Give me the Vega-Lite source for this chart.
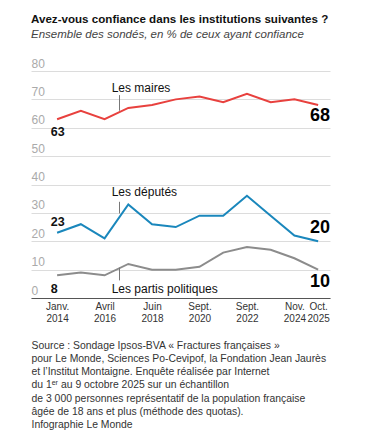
{
  "$schema": "https://vega.github.io/schema/vega-lite/v6.json",
  "width": 299,
  "height": 227,
  "autosize": "none",
  "padding": {"left": 31, "top": 71, "right": 40, "bottom": 149},
  "background": "white",
  "config": {"view": {"stroke": null}, "font": "Liberation Sans"},
  "title": {
    "text": "Avez-vous confiance dans les institutions suivantes ?",
    "subtitle": "Ensemble des sondés, en % de ceux ayant confiance",
    "anchor": "start",
    "frame": "group",
    "font": "Liberation Sans",
    "fontSize": 11.6,
    "fontWeight": "bold",
    "color": "#111",
    "subtitleFont": "Liberation Sans",
    "subtitleFontSize": 11.5,
    "subtitleFontStyle": "italic",
    "subtitleColor": "#444",
    "subtitlePadding": 3,
    "offset": 17
  },
  "datasets": {
    "series": [
      {"i": 0, "serie": "maires", "v": 63},
      {"i": 1, "serie": "maires", "v": 66},
      {"i": 2, "serie": "maires", "v": 63},
      {"i": 3, "serie": "maires", "v": 67},
      {"i": 4, "serie": "maires", "v": 68},
      {"i": 5, "serie": "maires", "v": 70},
      {"i": 6, "serie": "maires", "v": 71},
      {"i": 7, "serie": "maires", "v": 69},
      {"i": 8, "serie": "maires", "v": 72},
      {"i": 9, "serie": "maires", "v": 69},
      {"i": 10, "serie": "maires", "v": 70},
      {"i": 11, "serie": "maires", "v": 68},
      {"i": 0, "serie": "deputes", "v": 23},
      {"i": 1, "serie": "deputes", "v": 26},
      {"i": 2, "serie": "deputes", "v": 21},
      {"i": 3, "serie": "deputes", "v": 33},
      {"i": 4, "serie": "deputes", "v": 26},
      {"i": 5, "serie": "deputes", "v": 25},
      {"i": 6, "serie": "deputes", "v": 29},
      {"i": 7, "serie": "deputes", "v": 29},
      {"i": 8, "serie": "deputes", "v": 36},
      {"i": 9, "serie": "deputes", "v": 29},
      {"i": 10, "serie": "deputes", "v": 22},
      {"i": 11, "serie": "deputes", "v": 20},
      {"i": 0, "serie": "partis", "v": 8},
      {"i": 1, "serie": "partis", "v": 9},
      {"i": 2, "serie": "partis", "v": 8},
      {"i": 3, "serie": "partis", "v": 12},
      {"i": 4, "serie": "partis", "v": 10},
      {"i": 5, "serie": "partis", "v": 10},
      {"i": 6, "serie": "partis", "v": 11},
      {"i": 7, "serie": "partis", "v": 16},
      {"i": 8, "serie": "partis", "v": 18},
      {"i": 9, "serie": "partis", "v": 17},
      {"i": 10, "serie": "partis", "v": 14},
      {"i": 11, "serie": "partis", "v": 10}
    ],
    "leaders": [
      {"i": 2.63, "v": 71.5, "v2": 66},
      {"i": 2.63, "v": 33.9, "v2": 29.8},
      {"i": 2.63, "v": 10.7, "v2": 6.2}
    ],
    "names": [
      {"i": 2.3, "v": 74.0, "t": "Les maires"},
      {"i": 2.3, "v": 37.2, "t": "Les députés"},
      {"i": 2.3, "v": 3.3, "t": "Les partis politiques"}
    ],
    "starts": [
      {"i": -0.27, "v": 58.6, "t": "63"},
      {"i": -0.27, "v": 26.9, "t": "23"},
      {"i": -0.27, "v": 3.3, "t": "8"}
    ],
    "ends": [
      {"i": 11.5, "v": 64.3, "t": "68"},
      {"i": 11.5, "v": 24.6, "t": "20"},
      {"i": 11.5, "v": 5.5, "t": "10"}
    ]
  },
  "encoding": {
    "x": {
      "field": "i",
      "type": "quantitative",
      "scale": {"domain": [-1.1, 11.5], "nice": false, "zero": false},
      "axis": {
        "values": [0, 2, 4, 6, 8, 10, 11],
        "labelExpr": "datum.value == 0 ? ['Janv.', '2014'] : datum.value == 2 ? ['Avril', '2016'] : datum.value == 4 ? ['Juin', '2018'] : datum.value == 6 ? ['Sept.', '2020'] : datum.value == 8 ? ['Sept.', '2022'] : datum.value == 10 ? ['Nov.', '2024'] : ['Oct.', '2025']",
        "grid": false,
        "ticks": false,
        "domain": true,
        "domainColor": "#555",
        "domainWidth": 1,
        "labelFont": "Liberation Sans",
        "labelFontSize": 10,
        "labelColor": "#333",
        "labelPadding": 3,
        "labelLineHeight": 12,
        "labelBaseline": "top",
        "labelFlush": false,
        "labelOverlap": false,
        "title": [
          "Source : Sondage Ipsos-BVA « Fractures françaises »",
          "pour Le Monde, Sciences Po-Cevipof, la Fondation Jean Jaurès",
          "et l’Institut Montaigne. Enquête réalisée par Internet",
          "du 1ᵉʳ au 9 octobre 2025 sur un échantillon",
          "de 3 000 personnes représentatif de la population française",
          "âgée de 18 ans et plus (méthode des quotas).",
          "Infographie Le Monde"
        ],
        "titleFont": "Liberation Sans",
        "titleFontSize": 10.4,
        "titleFontWeight": "normal",
        "titleColor": "#333",
        "titleLineHeight": 13.3,
        "titleAnchor": "start",
        "titleAlign": "left",
        "titleBaseline": "top",
        "titleX": 0,
        "titleY": 42
      }
    },
    "y": {
      "field": "v",
      "type": "quantitative",
      "scale": {"domain": [0, 80], "nice": false, "zero": false},
      "axis": {
        "values": [0, 10, 20, 30, 40, 50, 60, 70, 80],
        "title": null,
        "domain": false,
        "ticks": false,
        "grid": true,
        "gridColor": "#dcdcdc",
        "gridWidth": 1,
        "labelAlign": "left",
        "labelBaseline": "alphabetic",
        "labelPadding": 0,
        "labelOffset": -4,
        "labelFont": "Liberation Sans",
        "labelFontSize": 12,
        "labelColor": "#aaa",
        "labelFlush": false,
        "labelOverlap": false
      }
    }
  },
  "layer": [
    {
      "data": {"name": "series"},
      "mark": {"type": "line", "strokeWidth": 2, "interpolate": "linear"},
      "encoding": {
        "color": {
          "field": "serie",
          "type": "nominal",
          "scale": {"domain": ["maires", "deputes", "partis"], "range": ["#e8413e", "#1a87bc", "#8c8c8c"]},
          "legend": null
        }
      }
    },
    {
      "data": {"name": "leaders"},
      "mark": {"type": "rule", "color": "#777", "strokeWidth": 1},
      "encoding": {
        "y2": {"field": "v2"}
      }
    },
    {
      "data": {"name": "names"},
      "mark": {"type": "text", "align": "left", "baseline": "middle", "font": "Liberation Sans", "fontSize": 12, "color": "#111"},
      "encoding": {
        "text": {"field": "t"}
      }
    },
    {
      "data": {"name": "starts"},
      "mark": {"type": "text", "align": "left", "baseline": "middle", "font": "Liberation Sans", "fontSize": 12.5, "fontWeight": "bold", "color": "#111"},
      "encoding": {
        "text": {"field": "t"}
      }
    },
    {
      "data": {"name": "ends"},
      "mark": {"type": "text", "align": "right", "baseline": "middle", "font": "Liberation Sans", "fontSize": 18, "fontWeight": "bold", "color": "#000"},
      "encoding": {
        "text": {"field": "t"}
      }
    }
  ]
}
